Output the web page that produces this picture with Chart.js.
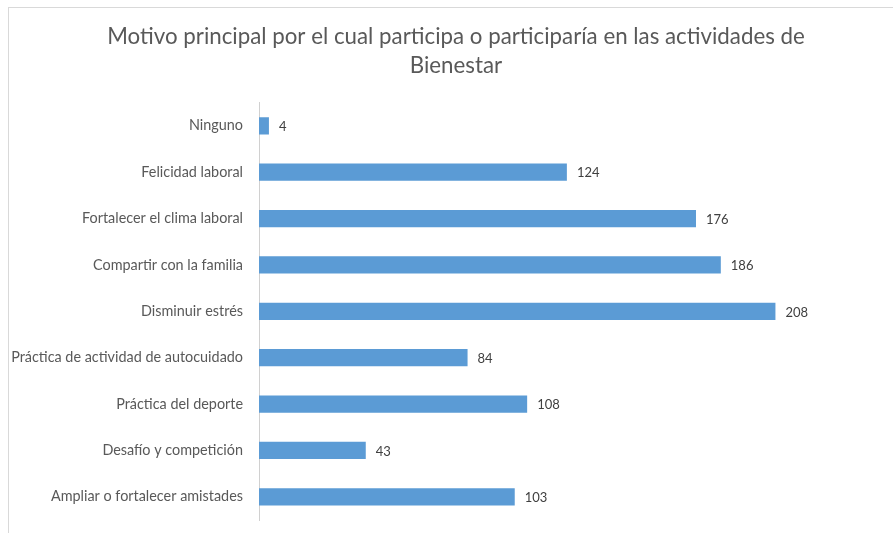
<!DOCTYPE html>
<html>
<head>
<meta charset="utf-8">
<script src="https://cdn.jsdelivr.net/npm/chart.js@4/dist/chart.umd.min.js"></script>
<style>
  html, body { margin: 0; padding: 0; background: #ffffff; overflow: hidden; }
  #frame {
    position: absolute; left: 8px; top: 7px; width: 920px; height: 540px;
    border: 1px solid #d9d9d9; box-sizing: border-box;
  }
  #wrap { position: absolute; left: 0; top: 0; width: 912px; height: 533px; }
</style>
</head>
<body>
<div id="frame"></div>
<div id="wrap"><canvas id="chart" width="912" height="533"></canvas></div>
<script>
const titleLines = [
  'Motivo principal por el cual participa o participaría en las actividades de',
  'Bienestar'
];
const categories = [
  'Ninguno',
  'Felicidad laboral',
  'Fortalecer el clima laboral',
  'Compartir con la familia',
  'Disminuir estrés',
  'Práctica de actividad de autocuidado',
  'Práctica del deporte',
  'Desafío y competición',
  'Ampliar o fortalecer amistades'
];
const counts = [4, 124, 176, 186, 208, 84, 108, 43, 103];
const axisMax = 263;

const FONT = 'Lato, "Open Sans", sans-serif';

// Writes each bar's value just past its end
const valueLabels = {
  id: 'valueLabels',
  afterDatasetsDraw(chart) {
    const ctx = chart.ctx;
    const meta = chart.getDatasetMeta(0);
    ctx.save();
    ctx.font = '13px ' + FONT;
    ctx.fillStyle = '#404040';
    ctx.textAlign = 'left';
    ctx.textBaseline = 'middle';
    meta.data.forEach((bar, i) => {
      ctx.fillText(String(counts[i]), bar.x + 10, bar.y + 1);
    });
    ctx.restore();
  }
};

new Chart(document.getElementById('chart'), {
  type: 'bar',
  data: {
    labels: categories,
    datasets: [{
      data: counts,
      backgroundColor: '#5b9bd5',
      borderWidth: 0,
      categoryPercentage: 1,
      barPercentage: 0.37
    }]
  },
  options: {
    indexAxis: 'y',
    responsive: false,
    animation: false,
    layout: { padding: { left: 0, right: 0, top: 0, bottom: 13 } },
    plugins: {
      legend: { display: false },
      tooltip: { enabled: false },
      title: {
        display: true,
        text: titleLines,
        color: '#595959',
        font: { family: FONT, size: 22.3, weight: 'normal', lineHeight: 1.27 },
        padding: { top: 23, bottom: 23 }
      }
    },
    scales: {
      x: {
        display: false,
        min: 0,
        max: axisMax,
        grid: { display: false }
      },
      y: {
        afterFit(scale) {
          scale.width = 259;
          scale.paddingTop = 0;
          scale.paddingBottom = 0;
        },
        grid: { display: false, drawTicks: false },
        border: { display: true, color: '#d0d0d0', width: 1 },
        ticks: {
          color: '#595959',
          padding: 16,
          font: { family: FONT, size: 14.4 }
        }
      }
    }
  },
  plugins: [valueLabels]
});
</script>
</body>
</html>
